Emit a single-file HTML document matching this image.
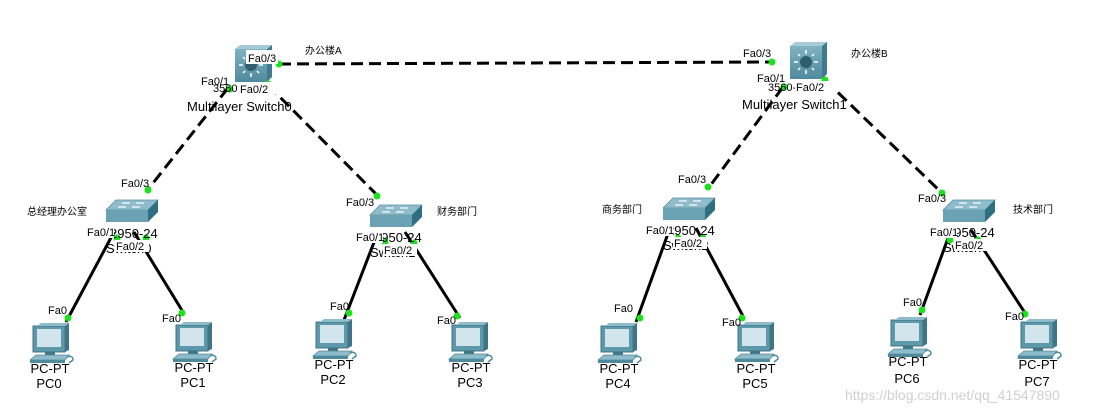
<!DOCTYPE html>
<html><head><meta charset="utf-8"><style>
html,body{margin:0;padding:0;background:#fff;}
svg{display:block;}
text{font-family:"Liberation Sans","Noto Sans CJK SC",sans-serif;fill:#000;}
.s{font-size:11px;}
.m{font-size:13px;}
.c{font-size:10px;}
</style></head><body>
<svg width="1101" height="413" viewBox="0 0 1101 413" xmlns="http://www.w3.org/2000/svg">
<defs>
<linearGradient id="gf" x1="0" y1="0" x2="0" y2="1"><stop offset="0" stop-color="#7fb3c2"/><stop offset="1" stop-color="#4f8a9c"/></linearGradient>
<g id="pc">
 <rect x="0" y="0" width="32" height="26" fill="#5d98ab" stroke="#3f7585" stroke-width="1"/>
 <rect x="4" y="3" width="24" height="18" fill="#d3e5ec"/>
 <polygon points="32,0 36,-3 36,24 32,26" fill="#3f7585"/>
 <polygon points="4,0 8,-3 36,-3 32,0" fill="#8fbccb"/>
 <rect x="12" y="26" width="10" height="3" fill="#3f7585"/>
 <polygon points="-3,34 3,29 36,29 32,34" fill="#8fbccb" stroke="#4f8a9c" stroke-width="0.8"/>
 <rect x="-3" y="34" width="35" height="3" fill="#4f8a9c"/>
 <path d="M34,31 q6,-2 6,3 l-4,3" fill="none" stroke="#4f8a9c" stroke-width="1.5"/>
</g>
<g id="sw">
 <polygon points="10,0 52,0 42,10 0,10" fill="#8fbccb" stroke="#5c8fa0" stroke-width="0.8"/>
 <rect x="0" y="10" width="42" height="12" fill="#6aa1b3"/>
 <polygon points="42,10 52,0 52,12 42,22" fill="#2f6f82"/>
 <g stroke="#fff" stroke-width="1.2"><line x1="16" y1="3" x2="24" y2="3"/><line x1="30" y1="3" x2="38" y2="3"/><line x1="12" y1="7" x2="20" y2="7"/><line x1="26" y1="7" x2="34" y2="7"/></g>
</g>
<g id="mls">
 <rect x="0" y="4" width="32" height="33" fill="url(#gf)"/>
 <polygon points="0,4 5,0 37,0 32,4" fill="#a7cbd6"/>
 <polygon points="32,4 37,0 37,32 32,37" fill="#3e7b8d"/>
 <circle cx="16" cy="20" r="6" fill="#2e5e70"/>
 <g stroke="#fff" stroke-width="1.5"><line x1="16" y1="8" x2="16" y2="12"/><line x1="16" y1="28" x2="16" y2="32"/><line x1="4" y1="20" x2="8" y2="20"/><line x1="24" y1="20" x2="28" y2="20"/><line x1="8" y1="12" x2="10" y2="14"/><line x1="22" y1="26" x2="24" y2="28"/><line x1="24" y1="12" x2="22" y2="14"/><line x1="8" y1="28" x2="10" y2="26"/></g>
</g>
</defs>

<!-- dashed links -->
<g stroke="#000" stroke-width="3" stroke-dasharray="12,6" fill="none">
 <line x1="279" y1="64" x2="772" y2="62"/>
 <line x1="228" y1="88" x2="146" y2="192"/>
 <line x1="268" y1="85" x2="378" y2="196"/>
 <line x1="783" y1="87" x2="710" y2="186"/>
 <line x1="825" y1="80" x2="943" y2="194"/>
</g>
<!-- solid links -->
<g stroke="#000" stroke-width="3" fill="none">
 <line x1="114" y1="232" x2="66" y2="322"/>
 <line x1="134" y1="232" x2="183" y2="312"/>
 <line x1="378" y1="232" x2="344" y2="320"/>
 <line x1="405" y1="232" x2="460" y2="318"/>
 <line x1="670" y1="228" x2="636" y2="322"/>
 <line x1="696" y1="228" x2="744" y2="318"/>
 <line x1="951" y1="230" x2="920" y2="315"/>
 <line x1="971" y1="230" x2="1027" y2="316"/>
</g>

<!-- devices -->
<use href="#mls" x="235" y="45"/>
<use href="#mls" x="790" y="42"/>
<use href="#sw" x="106" y="200"/>
<use href="#sw" x="370" y="205"/>
<use href="#sw" x="663" y="198"/>
<use href="#sw" x="943" y="200"/>
<use href="#pc" x="33" y="326"/>
<use href="#pc" x="176" y="325"/>
<use href="#pc" x="316" y="322"/>
<use href="#pc" x="452" y="325"/>
<use href="#pc" x="601" y="326"/>
<use href="#pc" x="738" y="325"/>
<use href="#pc" x="891" y="320"/>
<use href="#pc" x="1021" y="322"/>

<!-- green dots -->
<g fill="#1ee01e">
 <circle cx="279" cy="64" r="3.5"/><circle cx="230" cy="89" r="3.5"/><circle cx="268" cy="84" r="3.5"/>
 <circle cx="772" cy="62" r="3.5"/><circle cx="784" cy="87" r="3.5"/><circle cx="825" cy="80" r="3.5"/>
 <circle cx="148" cy="190" r="3.5"/><circle cx="117" cy="238" r="3.5"/><circle cx="146" cy="238" r="3.5"/>
 <circle cx="377" cy="196" r="3.5"/><circle cx="385" cy="242" r="3.5"/><circle cx="414" cy="243" r="3.5"/>
 <circle cx="708" cy="187" r="3.5"/><circle cx="678" cy="238" r="3.5"/><circle cx="703" cy="238" r="3.5"/>
 <circle cx="942" cy="193" r="3.5"/><circle cx="950" cy="240" r="3.5"/><circle cx="978" cy="240" r="3.5"/>
 <circle cx="68" cy="318" r="3.5"/><circle cx="182" cy="313" r="3.5"/><circle cx="349" cy="313" r="3.5"/><circle cx="457" cy="316" r="3.5"/>
 <circle cx="640" cy="318" r="3.5"/><circle cx="742" cy="318" r="3.5"/><circle cx="922" cy="310" r="3.5"/><circle cx="1025" cy="314" r="3.5"/>
</g>

<!-- MLS labels -->
<text class="s" x="213" y="92">3560-24PS</text>
<text class="m" x="187" y="111">Multilayer Switch0</text>
<rect x="246" y="50" width="32" height="14" fill="#fff"/>
<text class="s" x="248" y="62">Fa0/3</text>
<text class="s" x="201" y="85">Fa0/1</text>
<rect x="238" y="82" width="40" height="12" fill="#fff"/>
<text class="s" x="240" y="93">Fa0/2</text>
<text class="c" x="305" y="54">办公楼A</text>

<text class="s" x="768" y="91">3560-24PS</text>
<text class="m" x="742" y="109">Multilayer Switch1</text>
<text class="s" x="743" y="57">Fa0/3</text>
<text class="s" x="757" y="82">Fa0/1</text>
<rect x="795" y="81" width="40" height="12" fill="#fff"/>
<text class="s" x="796" y="91">Fa0/2</text>
<text class="c" x="851" y="57">办公楼B</text>

<!-- switch labels -->
<text class="s" x="121" y="187">Fa0/3</text>
<text class="c" x="27" y="215">总经理办公室</text>
<text class="m" x="110" y="238">2950-24</text>
<text class="m" x="106" y="253">Switch0</text>
<rect x="86" y="226" width="28" height="12" fill="#fff"/>
<text class="s" x="87" y="236">Fa0/1</text>
<rect x="115" y="240" width="34" height="12" fill="#fff"/>
<text class="s" x="116" y="250">Fa0/2</text>

<text class="s" x="346" y="206">Fa0/3</text>
<text class="c" x="437" y="215">财务部门</text>
<text class="m" x="374" y="242">2950-24</text>
<text class="m" x="370" y="257">Switch1</text>
<rect x="355" y="231" width="28" height="12" fill="#fff"/>
<text class="s" x="356" y="241">Fa0/1</text>
<rect x="383" y="244" width="34" height="12" fill="#fff"/>
<text class="s" x="384" y="254">Fa0/2</text>

<text class="s" x="678" y="183">Fa0/3</text>
<text class="c" x="602" y="213">商务部门</text>
<text class="m" x="667" y="235">2950-24</text>
<text class="m" x="663" y="250">Switch2</text>
<rect x="645" y="224" width="28" height="12" fill="#fff"/>
<text class="s" x="646" y="234">Fa0/1</text>
<rect x="673" y="237" width="34" height="12" fill="#fff"/>
<text class="s" x="674" y="247">Fa0/2</text>

<text class="s" x="918" y="202">Fa0/3</text>
<text class="c" x="1013" y="213">技术部门</text>
<text class="m" x="947" y="237">2950-24</text>
<text class="m" x="943" y="252">Switch3</text>
<rect x="929" y="226" width="28" height="12" fill="#fff"/>
<text class="s" x="930" y="236">Fa0/1</text>
<rect x="954" y="239" width="34" height="12" fill="#fff"/>
<text class="s" x="955" y="249">Fa0/2</text>

<!-- PC labels -->
<g class="s">
<text class="s" x="48" y="314">Fa0</text>
<text class="s" x="162" y="322">Fa0</text>
<text class="s" x="330" y="310">Fa0</text>
<text class="s" x="437" y="324">Fa0</text>
<text class="s" x="614" y="312">Fa0</text>
<text class="s" x="722" y="326">Fa0</text>
<text class="s" x="903" y="306">Fa0</text>
<text class="s" x="1005" y="320">Fa0</text>
</g>
<g class="m" text-anchor="middle">
<text class="m" x="50" y="373">PC-PT</text><text class="m" x="49" y="388">PC0</text>
<text class="m" x="194" y="372">PC-PT</text><text class="m" x="193" y="387">PC1</text>
<text class="m" x="334" y="369">PC-PT</text><text class="m" x="333" y="384">PC2</text>
<text class="m" x="471" y="372">PC-PT</text><text class="m" x="470" y="387">PC3</text>
<text class="m" x="619" y="373">PC-PT</text><text class="m" x="618" y="388">PC4</text>
<text class="m" x="756" y="373">PC-PT</text><text class="m" x="755" y="388">PC5</text>
<text class="m" x="908" y="366">PC-PT</text><text class="m" x="907" y="383">PC6</text>
<text class="m" x="1038" y="369">PC-PT</text><text class="m" x="1037" y="386">PC7</text>
</g>
<text x="845" y="400" style="font-size:14px;fill:#d0d0d0">https://blog.csdn.net/qq_41547890</text>
</svg>
</body></html>
